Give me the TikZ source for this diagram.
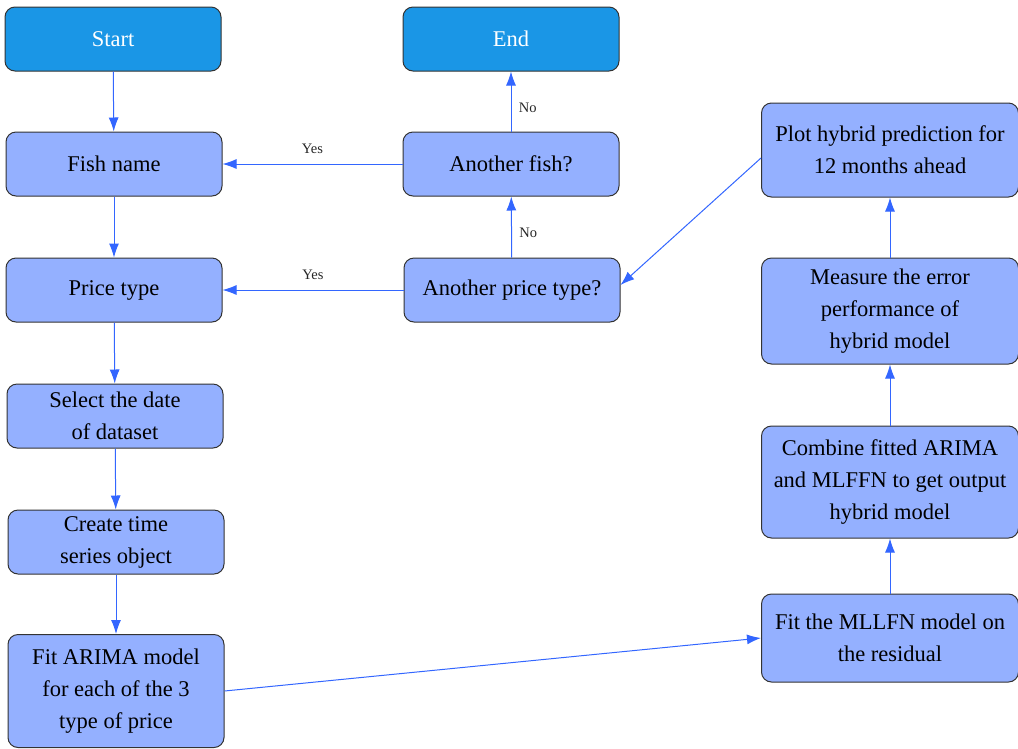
\documentclass[tikz,border=0pt]{standalone}
\usepackage{fontspec}
\setmainfont{Liberation Serif}
\usetikzlibrary{arrows.meta,positioning}
\definecolor{TermBlue}{HTML}{1A96E6}
\definecolor{StepBlue}{HTML}{94B0FF}
\definecolor{LinkBlue}{HTML}{3366FF}
\definecolor{EdgeGray}{HTML}{333333}
\tikzset{
  stepbox/.style={draw=EdgeGray,fill=StepBlue,rounded corners=10pt,line width=1pt,
    align=center,minimum width=216pt,minimum height=64pt,inner sep=4pt,
    font=\fontsize{22.5}{32}\selectfont},
  termbox/.style={stepbox,fill=TermBlue,text=white},
  widebox/.style={stepbox,minimum width=257pt},
  flow/.style={draw=LinkBlue,line width=1pt,-{Latex[length=14pt,width=10pt]}},
  branch/.style={font=\fontsize{14.5}{17}\selectfont,text=black!85}
}

\begin{document}
\begin{tikzpicture}[x=1pt,y=-1pt]
        \useasboundingbox (0,0) rectangle (1018,748);
        % left column
        \node[termbox] (start) at (113,39) {Start};
        \node[stepbox] (fish) at (114,164) {Fish name};
        \node[stepbox] (price) at (114,290) {Price type};
        \node[stepbox] (date) at (115,416) {Select the date\\of dataset};
        \node[stepbox] (series) at (116,542) {Create time\\series object};
        \node[stepbox,minimum height=113pt] (arima) at (116,691) {Fit ARIMA model\\for each of the 3\\type of price};
        % decisions
        \node[termbox] (finish) at (511,39) {End};
        \node[stepbox] (anofish) at (511,164) {Another fish?};
        \node[stepbox] (anoprice) at (512,290) {Another price type?};
        % right column
        \node[widebox,minimum height=88pt] (mllfn) at (890,638) {Fit the MLLFN model on\\the residual};
        \node[widebox,minimum height=112pt] (combine) at (890,482) {Combine fitted ARIMA\\and MLFFN to get output\\hybrid model};
        \node[widebox,minimum height=106pt] (measure) at (890,311) {Measure the error\\performance of\\hybrid model};
        \node[widebox,minimum height=94pt] (plot) at (890,150) {Plot hybrid prediction for\\12 months ahead};

        \draw[flow] (start) -- (fish);
        \draw[flow] (fish) -- (price);
        \draw[flow] (price) -- (date);
        \draw[flow] (date) -- (series);
        \draw[flow] (series) -- (arima);
        \draw[flow] (arima.east) -- (mllfn.west);
        \draw[flow] (mllfn) -- (combine);
        \draw[flow] (combine) -- (measure);
        \draw[flow] (measure) -- (plot);
        \draw[flow] ([yshift=-8pt]plot.west) -- ([yshift=5pt]anoprice.east);
        \draw[flow] (anoprice) -- node[branch,right,pos=0.4,xshift=4pt] {No} (anofish);
        \draw[flow] (anofish) -- node[branch,right,pos=0.4,xshift=4pt] {No} (finish);
        \draw[flow] (anofish.west) -- node[branch,above,yshift=7pt] {Yes} (fish.east);
        \draw[flow] (anoprice.west) -- node[branch,above,yshift=7pt] {Yes} (price.east);
      \end{tikzpicture}
\end{document}
